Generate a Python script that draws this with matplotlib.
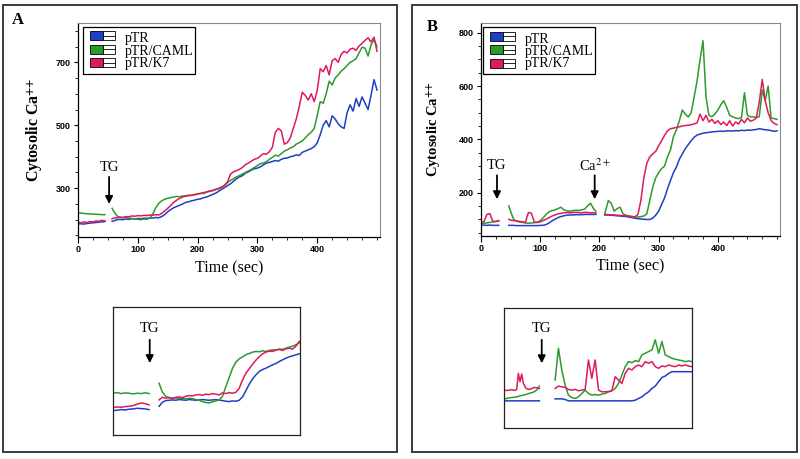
import numpy as np
import matplotlib
matplotlib.use('Agg')
import matplotlib.pyplot as plt
from matplotlib.patches import Rectangle
from matplotlib.transforms import Affine2D
from matplotlib.ticker import MultipleLocator

plt.rcParams['mathtext.fontset'] = 'stix'

nan = np.nan

# ---- panel A: TG added at ~50 s (recording gap) ----
tA = np.r_[np.arange(0, 50, 5), nan, 57, np.arange(60, 505, 5)]

blueA = [186, 187, 186, 188, 189, 190, 191, 192, 193, 194, nan, 195,
         196, 200, 201, 200, 202, 201, 203, 202, 204, 203,
         205, 204, 206, 205, 207, 206, 210, 216, 225, 232,
         238, 242, 246, 250, 255, 257, 260, 262, 265, 266,
         270, 272, 276, 280, 284, 290, 296, 302, 308, 314,
         322, 330, 336, 340, 348, 352, 358, 362, 364, 368,
         374, 380, 382, 385, 388, 386, 392, 395, 396, 400,
         402, 406, 404, 414, 418, 422, 426, 432, 444, 470,
         500, 515, 495, 530, 520, 505, 495, 490, 540, 565,
         545, 585, 560, 590, 570, 550, 595, 645, 612]
greenA = [222, 221, 220, 219, 218, 218, 217, 217, 216, 216, nan, 236,
          226, 212, 208, 206, 207, 205, 204, 203, 201, 200,
          202, 201, 205, 218, 238, 252, 260, 265, 268, 270,
          272, 274, 273, 275, 276, 278, 277, 280, 282, 284,
          283, 288, 290, 292, 296, 300, 304, 308, 318, 325,
          330, 336, 340, 345, 350, 355, 360, 366, 372, 378,
          380, 384, 392, 398, 405, 402, 410, 418, 422, 428,
          432, 440, 445, 450, 460, 470, 478, 490, 530, 575,
          570, 600, 640, 628, 650, 660, 672, 680, 690, 700,
          705, 712, 730, 748, 745, 720, 755, 772, 750]
redA = [192, 190, 193, 191, 194, 193, 196, 195, 198, 196, nan, 203,
        205, 206, 208, 207, 210, 209, 212, 211, 213, 212,
        214, 213, 215, 214, 216, 215, 220, 228, 236, 245,
        255, 262, 268, 272, 275, 276, 278, 279, 282, 283,
        286, 288, 291, 293, 296, 298, 302, 310, 320, 345,
        352, 356, 360, 366, 375, 380, 386, 392, 395, 402,
        410, 408, 416, 430, 478, 490, 482, 440, 445, 460,
        490, 520, 560, 605, 595, 580, 600, 575, 610, 680,
        670, 690, 660, 705, 712, 700, 725, 735, 730, 742,
        745, 738, 752, 760, 770, 778, 765, 780, 735]

# ---- panel B: TG at ~30 s, Ca2+ at ~195 s ----
tB = np.r_[np.arange(0, 35, 5), nan, 47, np.arange(50, 195, 5), 194,
           nan, 209, np.arange(215, 505, 5)]

blueB = [78, 78, 77, 78, 77, 77, 77, nan,
         77, 77, 77, 76, 76, 76, 76, 76, 76, 76, 76,
         77, 77, 80, 86, 94, 100, 106, 110, 113, 115,
         116, 116, 117, 117, 117, 118, 118, 118, 118, 118,
         nan, 116,
         116, 115, 114, 113, 112, 111, 110, 108, 106, 104,
         102, 101, 100, 99, 99, 104, 115, 130, 155, 180,
         215, 245, 275, 296, 325, 345, 365, 380, 395, 408,
         416, 420, 423, 425, 426, 428, 429, 430, 431, 430,
         432, 432, 431, 433, 432, 434, 433, 435, 434, 436,
         437, 440, 438, 436, 435, 433, 430, 432]
redB = [90, 91, 118, 121, 92, 91, 94, nan,
        100, 96, 95, 94, 92, 90, 88, 125, 123, 90, 88,
        90, 95, 100, 106, 112, 116, 120, 122, 124, 125,
        124, 125, 126, 125, 124, 126, 125, 124, 125, 123,
        nan, 118,
        117, 116, 116, 115, 114, 113, 112, 111, 110, 109,
        118, 170, 255, 310, 334, 345, 355, 375, 395, 415,
        432, 440, 442, 445, 447, 450, 452, 453, 455, 458,
        462, 495, 470, 490, 465, 475, 460, 470, 456, 465,
        452, 470, 450, 465, 458, 475, 462, 480, 468, 472,
        480, 540, 625, 545, 500, 470, 460, 455]
greenB = [84, 85, 86, 88, 90, 92, 95, nan,
          150, 130, 100, 92, 90, 88, 86, 85, 86, 87, 88,
          95, 105, 118, 128, 132, 135, 140, 145, 135, 132,
          130, 132, 134, 133, 135, 138, 150, 160, 140, 130,
          nan, 120,
          170, 160, 130, 140, 145, 120, 115, 112, 110, 108,
          108, 110, 112, 120, 170, 220, 255, 275, 290, 300,
          335, 360, 410, 435, 470, 510, 495, 484, 500, 560,
          620, 700, 770, 560, 490, 485, 495, 510, 530, 545,
          520, 490, 485, 480, 478, 482, 575, 490, 485, 484,
          483, 485, 585, 545, 600, 480, 478, 475]

# ---- insets (own scale, arbitrary units) ----
uA = np.r_[np.arange(0, 120, 12), nan, np.arange(138, 568, 10)]
greenIA = [125, 127, 124, 126, 125, 123, 125, 124, 126, 124, nan,
           155, 128, 116, 112, 110, 111, 109, 110, 108, 110,
           109, 106, 104, 100, 97, 96, 99, 102, 105, 116,
           145, 172, 200, 218, 228, 234, 240, 244, 248, 250,
           249, 252, 250, 253, 255, 254, 257, 256, 260, 263,
           266, 270, 276]
redIA = [82, 84, 83, 85, 86, 88, 92, 96, 94, 90, nan,
         105, 113, 110, 112, 109, 113, 114, 112, 116, 118,
         117, 120, 121, 119, 122, 121, 124, 122, 120, 126,
         124, 127, 125, 128, 140, 165, 185, 198, 212, 224,
         234, 243, 248, 251, 250, 254, 256, 253, 258, 260,
         257, 266, 280]
blueIA = [73, 74, 76, 75, 77, 78, 80, 79, 78, 76, nan,
          86, 98, 103, 104, 105, 104, 106, 105, 104, 106,
          105, 104, 105, 106, 105, 104, 105, 106, 104, 103,
          101, 100, 102, 101, 104, 114, 133, 152, 168, 180,
          190, 196, 200, 205, 210, 214, 220, 225, 230, 234,
          237, 240, 243]

uB = np.r_[[0, 8, 16, 24, 32, 38, 43, 48, 53, 58, 66, 74, 82, 90, 98, 106],
           nan, np.arange(153, 564, 10)]
blueIB = [81, 81, 81, 81, 81, 81, 81, 81, 81, 81, 81, 81, 81, 81, 81, 81, nan,
          87, 87, 87, 85, 81, 81, 81, 81, 81, 81,
          81, 81, 81, 81, 81, 81, 81, 81, 81, 81,
          81, 81, 81, 81, 83, 88, 93, 101, 108, 118,
          125, 138, 151, 155, 163, 168, 168, 168, 168, 168,
          168, 168]
redIB = [113, 112, 113, 114, 112, 115, 163, 138, 161, 133, 118, 115, 117, 121, 120, 118, nan,
         118, 125, 123, 121, 115, 113, 115, 111, 113, 115,
         203, 148, 203, 113, 108, 108, 109, 111, 153, 143,
         133, 163, 178, 173, 183, 188, 183, 198, 193, 198,
         183, 178, 185, 183, 188, 185, 183, 188, 185, 188,
         185, 183]
greenIB = [86, 88, 90, 91, 92, 93, 94, 96, 97, 98, 100, 103, 105, 108, 113, 125, nan,
           143, 238, 173, 128, 98, 91, 88, 93, 103, 113,
           103, 98, 100, 98, 101, 103, 108, 111, 118, 133,
           158, 183, 198, 195, 201, 198, 218, 223, 228, 233,
           263, 223, 258, 218, 213, 208, 205, 203, 201, 198,
           200, 198]

labels = ['pTR', 'pTR/CAML', 'pTR/K7']
BLUE, GREEN, RED = '#1f3fc4', '#2c9a2c', '#e0185c'
colors = [BLUE, GREEN, RED]

SERIF = 'Liberation Serif'
W, H = 800, 459
fig = plt.figure(figsize=(8, 4.59), dpi=100)
pix = Affine2D().scale(1 / W, -1 / H).translate(0, 1) + fig.transFigure


def box(x0, y0, x1, y1):
    # axes rect from pixel corners (top-left origin)
    return [x0 / W, 1 - y1 / H, (x1 - x0) / W, (y1 - y0) / H]


# outer panel frames
for x0, x1 in [(3, 397), (412, 797)]:
    fig.add_artist(Rectangle((x0, 5), x1 - x0, 447, transform=pix,
                             fill=False, lw=1.4, ec='#3a3a3a'))


def style_main(ax, ylim, yticks, ylabel_x, ylab_size):
    ax.set_xlim(0, 505)
    ax.set_ylim(*ylim)
    ax.set_xticks([0, 100, 200, 300, 400])
    ax.set_yticks(yticks)
    ax.xaxis.set_minor_locator(MultipleLocator(25))
    ax.yaxis.set_minor_locator(MultipleLocator(50))
    ax.tick_params(which='major', direction='out', length=4, width=0.8,
                   labelsize=6.5, pad=2)
    ax.tick_params(which='minor', direction='out', length=2, width=0.6)
    ax.tick_params(axis='y', which='major', length=3)
    for lab in ax.get_xticklabels() + ax.get_yticklabels():
        lab.set_fontfamily('Liberation Sans')
        lab.set_fontweight('bold')
    for s in ['top', 'right']:
        ax.spines[s].set_color('#888888')
        ax.spines[s].set_linewidth(0.8)
    for s in ['left', 'bottom']:
        ax.spines[s].set_linewidth(0.9)
    ax.set_xlabel('Time (sec)', fontfamily=SERIF, fontsize=11.5)
    ax.xaxis.set_label_coords(0.5, -0.145)
    ax.xaxis.label.set_va('center')
    ax.set_ylabel(r'Cytosolic Ca$^{\mathbf{+\!\!+}}$', fontfamily=SERIF,
                  fontweight='bold', fontsize=ylab_size)
    ax.yaxis.set_label_coords(ylabel_x, 0.5)
    ax.yaxis.label.set_va('center')


def legend_box(x0, y0):
    fig.add_artist(Rectangle((x0, y0), 112, 47, transform=pix, fill=True,
                             fc='white', ec='black', lw=0.9, zorder=5))
    for i, (c, lab) in enumerate(zip(colors, labels)):
        ys = y0 + 4.5 + i * 13.5
        fig.add_artist(Rectangle((x0 + 7, ys), 13, 9, transform=pix,
                                 fc=c, ec='black', lw=0.6, zorder=6))
        fig.add_artist(Rectangle((x0 + 20, ys), 12, 9, transform=pix,
                                 fc='white', ec='black', lw=0.6, zorder=6))
        fig.add_artist(plt.Line2D([x0 + 20, x0 + 32], [ys + 4.5, ys + 4.5],
                                  transform=pix, color='black', lw=0.6, zorder=7))
        fig.text(x0 + 42, y0 + 12 + i * 12.3, lab, transform=pix,
                 fontfamily=SERIF, fontsize=10, va='center', ha='left', zorder=7)


def arrow(ax, x, text, y_text, y_tail, y_tip, size=10.5):
    ax.annotate('', xy=(x, y_tip), xytext=(x, y_tail),
                arrowprops=dict(arrowstyle='-|>', color='black', lw=1.3,
                                mutation_scale=11, shrinkA=0, shrinkB=0))
    ax.text(x, y_text, text, ha='center', va='center', fontfamily=SERIF,
            fontsize=size)


# ---------------- Panel A ----------------
axA = fig.add_axes(box(78, 23, 380, 237))
for v, c in zip([blueA, greenA, redA], colors):
    axA.plot(tA, v, color=c, lw=1.1)
style_main(axA, (145, 825), [300, 500, 700], -0.142, 11.5)
arrow(axA, 52, 'TG', 367, 336, 250)
legend_box(82.7, 26.7)
fig.text(18, 20, 'A', transform=pix, fontfamily=SERIF, fontweight='bold',
         fontsize=12, va='center', ha='center')

# ---------------- Panel B ----------------
axB = fig.add_axes(box(481, 23, 780, 236))
for v, c in zip([blueB, greenB, redB], colors):
    axB.plot(tB, v, color=c, lw=1.1)
style_main(axB, (37, 837), [200, 400, 600, 800], -0.155, 10.5)
arrow(axB, 27, 'TG', 302, 265, 175)
arrow(axB, 192, 'Ca$^{2+}$', 302, 265, 175)
legend_box(483.3, 27)
fig.text(432, 27, 'B', transform=pix, fontfamily=SERIF, fontweight='bold',
         fontsize=12, va='center', ha='center')

# ---------------- Insets ----------------
insA = fig.add_axes(box(113, 307, 300, 435))
for v, c in zip([blueIA, greenIA, redIA], colors):
    insA.plot(uA, v, color=c, lw=1.1)
insA.set_xlim(0, 560)
insA.set_ylim(0, 383)
arrow(insA, 110, 'TG', 320, 285, 215)

insB = fig.add_axes(box(504, 308, 692, 428))
for v, c in zip([blueIB, greenIB, redIB], colors):
    insB.plot(uB, v, color=c, lw=1.1)
insB.set_xlim(0, 563)
insB.set_ylim(0, 358)
arrow(insB, 113, 'TG', 298, 263, 193)

for ax in (insA, insB):
    ax.set_xticks([])
    ax.set_yticks([])
    for s in ax.spines.values():
        s.set_linewidth(0.9)
        s.set_color('#222222')

fig.savefig('out.png', dpi=100)
